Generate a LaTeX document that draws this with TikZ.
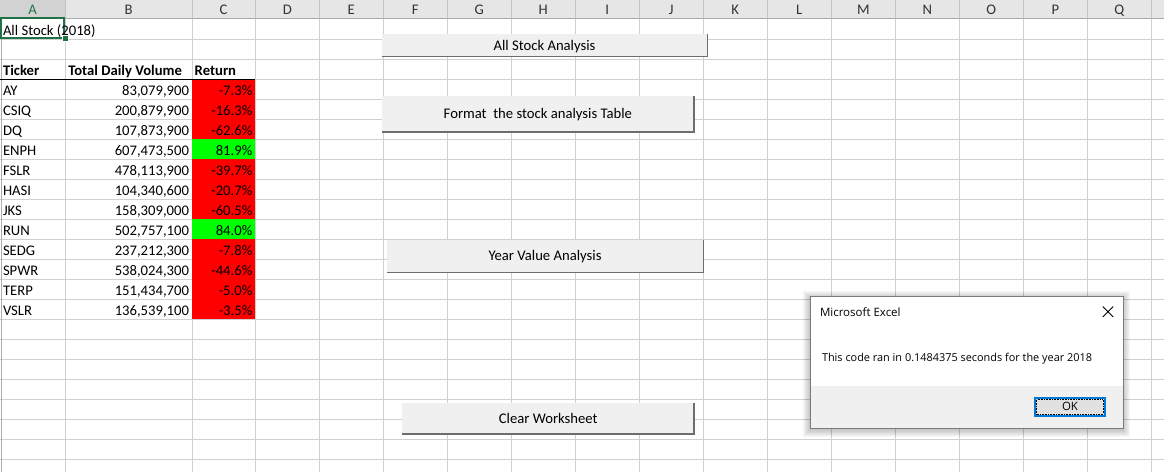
\documentclass[tikz,border=0pt]{standalone}
\usepackage{fontspec}
\setmainfont{Carlito}
\newfontfamily\dlgfont{Open Sans}
\usepackage{xcolor}
\usepackage{tikz}
\definecolor{gridline}{HTML}{D0D0D0}
\definecolor{headbg}{HTML}{E6E6E6}
\definecolor{headsel}{HTML}{D2D2D2}
\definecolor{headtext}{HTML}{333333}
\definecolor{headedge}{HTML}{ABABAB}
\definecolor{selgreen}{HTML}{217346}
\definecolor{cellred}{HTML}{FF0000}
\definecolor{cellgreen}{HTML}{00FF00}
\definecolor{btnfill}{HTML}{F0F0F0}
\definecolor{btnedge}{HTML}{6D6D6D}
\definecolor{dlgedge}{HTML}{7A7A7A}
\definecolor{okfill}{HTML}{E1E1E1}
\definecolor{okblue}{HTML}{0078D7}

\begin{document}
\begin{tikzpicture}[x=1pt,y=-1pt,
    every node/.style={inner sep=0pt,outer sep=0pt,font=\fontsize{14.67}{17}\selectfont},
    cellL/.style={anchor=base west},
    cellR/.style={anchor=base east},
    cellB/.style={anchor=base west,font=\fontsize{14.67}{17}\selectfont\bfseries},
    colhead/.style={anchor=base,text=headtext},
    button/.style={fill=btnfill,text height=9.4pt,text depth=0pt},
    btnshade/.style={draw=btnedge,line width=1.6pt},
    dlgtext/.style={font=\dlgfont\fontsize{11.5}{14}\selectfont}]
    \useasboundingbox (0,0) rectangle (1164,472);
    \fill[white] (0,0) rectangle (1164,472);

    % column heads
    \fill[headbg] (0,0) rectangle (1164,18.7);
    \fill[headsel] (0,0) rectangle (65.3,18.7);
    \foreach \x in {65.3,191.7,255.3,319.3,383.3,447.3,511.3,575.3,639.3,703.3,767.3,831.3,895.3,959.3,1023.3,1087.3,1151.3}
      \draw[headedge!70] (\x,0) -- (\x,18.7);
    \draw[headedge] (0,18.2) -- (1164,18.2);
    \node[colhead,text=selgreen] (hA) at (32.7,14) {A};
    \foreach \l/\x in {B/128.5,C/223.5,D/287.3,E/351.3,F/415.3,G/479.3,H/543.3,I/607.3,J/671.3,K/735.3,L/799.3,M/863.3,N/927.3,O/991.3,P/1055.3,Q/1119.3}
      \node[colhead] (h\l) at (\x,14) {\l};

    % cell grid
    \foreach \y in {38.7,58.7,...,458.7}
      \draw[gridline] (0,\y) -- (1164,\y);
    \foreach \x in {65.3,191.7,255.3,319.3,383.3,447.3,511.3,575.3,639.3,703.3,767.3,831.3,895.3,959.3,1023.3,1087.3,1151.3}
      \draw[gridline] (\x,18.7) -- (\x,472);
    \draw[headedge] (0.8,18.7) -- (0.8,472);

    % return colours
    \fill[cellred] (191.7,78.7) rectangle (255.3,138.7);
    \fill[cellgreen] (191.7,138.7) rectangle (255.3,158.7);
    \fill[cellred] (191.7,158.7) rectangle (255.3,218.7);
    \fill[cellgreen] (191.7,218.7) rectangle (255.3,238.7);
    \fill[cellred] (191.7,238.7) rectangle (255.3,318.7);
    \draw[black] (0,78.7) -- (255.3,78.7);

    % selected cell
    \draw[selgreen,line width=2pt] (1,17.7) rectangle (64.3,37.8);
    \fill[selgreen,draw=white,line width=0.8pt] (62.3,35.8) rectangle (68.5,41);

    \node[cellL] (title) at (3,35) {All Stock (2018)};
    \node[cellB] (hTicker) at (3,75) {Ticker};
    \node[cellB] (hVolume) at (68.3,75) {Total Daily Volume};
    \node[cellB] (hReturn) at (194.7,75) {Return};

    \node[cellL] (tAY) at (3,95) {AY}; \node[cellR] (vAY) at (189,95) {83,079,900}; \node[cellR] (rAY) at (252.3,95) {-7.3\%};
    \node[cellL] (tCSIQ) at (3,115) {CSIQ}; \node[cellR] (vCSIQ) at (189,115) {200,879,900}; \node[cellR] (rCSIQ) at (252.3,115) {-16.3\%};
    \node[cellL] (tDQ) at (3,135) {DQ}; \node[cellR] (vDQ) at (189,135) {107,873,900}; \node[cellR] (rDQ) at (252.3,135) {-62.6\%};
    \node[cellL] (tENPH) at (3,155) {ENPH}; \node[cellR] (vENPH) at (189,155) {607,473,500}; \node[cellR] (rENPH) at (252.3,155) {81.9\%};
    \node[cellL] (tFSLR) at (3,175) {FSLR}; \node[cellR] (vFSLR) at (189,175) {478,113,900}; \node[cellR] (rFSLR) at (252.3,175) {-39.7\%};
    \node[cellL] (tHASI) at (3,195) {HASI}; \node[cellR] (vHASI) at (189,195) {104,340,600}; \node[cellR] (rHASI) at (252.3,195) {-20.7\%};
    \node[cellL] (tJKS) at (3,215) {JKS}; \node[cellR] (vJKS) at (189,215) {158,309,000}; \node[cellR] (rJKS) at (252.3,215) {-60.5\%};
    \node[cellL] (tRUN) at (3,235) {RUN}; \node[cellR] (vRUN) at (189,235) {502,757,100}; \node[cellR] (rRUN) at (252.3,235) {84.0\%};
    \node[cellL] (tSEDG) at (3,255) {SEDG}; \node[cellR] (vSEDG) at (189,255) {237,212,300}; \node[cellR] (rSEDG) at (252.3,255) {-7.8\%};
    \node[cellL] (tSPWR) at (3,275) {SPWR}; \node[cellR] (vSPWR) at (189,275) {538,024,300}; \node[cellR] (rSPWR) at (252.3,275) {-44.6\%};
    \node[cellL] (tTERP) at (3,295) {TERP}; \node[cellR] (vTERP) at (189,295) {151,434,700}; \node[cellR] (rTERP) at (252.3,295) {-5.0\%};
    \node[cellL] (tVSLR) at (3,315) {VSLR}; \node[cellR] (vVSLR) at (189,315) {136,539,100}; \node[cellR] (rVSLR) at (252.3,315) {-3.5\%};

    % macro buttons
    \node[button,minimum width=325.6pt,minimum height=22.7pt] (bAll) at (544.5,45.3) {All Stock Analysis};
    \draw[btnshade] (bAll.north east) -- (bAll.south east) -- (bAll.south west);
    \node[button,minimum width=312.3pt,minimum height=36pt] (bFormat) at (537.85,114) {Format~ the stock analysis Table};
    \draw[btnshade] (bFormat.north east) -- (bFormat.south east) -- (bFormat.south west);
    \node[button,minimum width=316.6pt,minimum height=32.3pt] (bYear) at (545,256.2) {Year Value Analysis};
    \draw[btnshade] (bYear.north east) -- (bYear.south east) -- (bYear.south west);
    \node[button,minimum width=291.7pt,minimum height=31.3pt] (bClear) at (548.2,418.3) {Clear Worksheet};
    \draw[btnshade] (bClear.north east) -- (bClear.south east) -- (bClear.south west);

    % message box
    \foreach \d in {1,...,7}
      \fill[black,opacity=0.03] ({810-\d},{296-\d+2}) rectangle ({1123.3+\d},{428+\d+2});
    \node[fill=white,minimum width=313.3pt,minimum height=132pt] (dlg) at (966.65,362) {};
    \fill[btnfill] (810,386) rectangle (1123.3,428);
    \draw[dlgedge] (dlg.north west) rectangle (dlg.south east);
    \node[dlgtext,anchor=base west] (dlgtitle) at (820,316) {Microsoft Excel};
    \draw[line width=0.9pt] (1102.8,306.5) -- (1113.2,316.9) (1102.8,316.9) -- (1113.2,306.5);
    \node[dlgtext,anchor=base west,font=\dlgfont\fontsize{10.9}{13}\selectfont] (dlgmsg) at (822,361) {This code ran in 0.1484375 seconds for the year 2018};
    \node[dlgtext,fill=okfill,draw=okblue,line width=2pt,minimum width=70pt,minimum height=18pt,text height=8.3pt,text depth=0pt] (ok) at (1070,406.7) {OK};
    \draw[line width=0.8pt,dash pattern=on 0.8pt off 0.8pt] (1036.8,399.5) rectangle (1103.2,413.9);
  \end{tikzpicture}
\end{document}
